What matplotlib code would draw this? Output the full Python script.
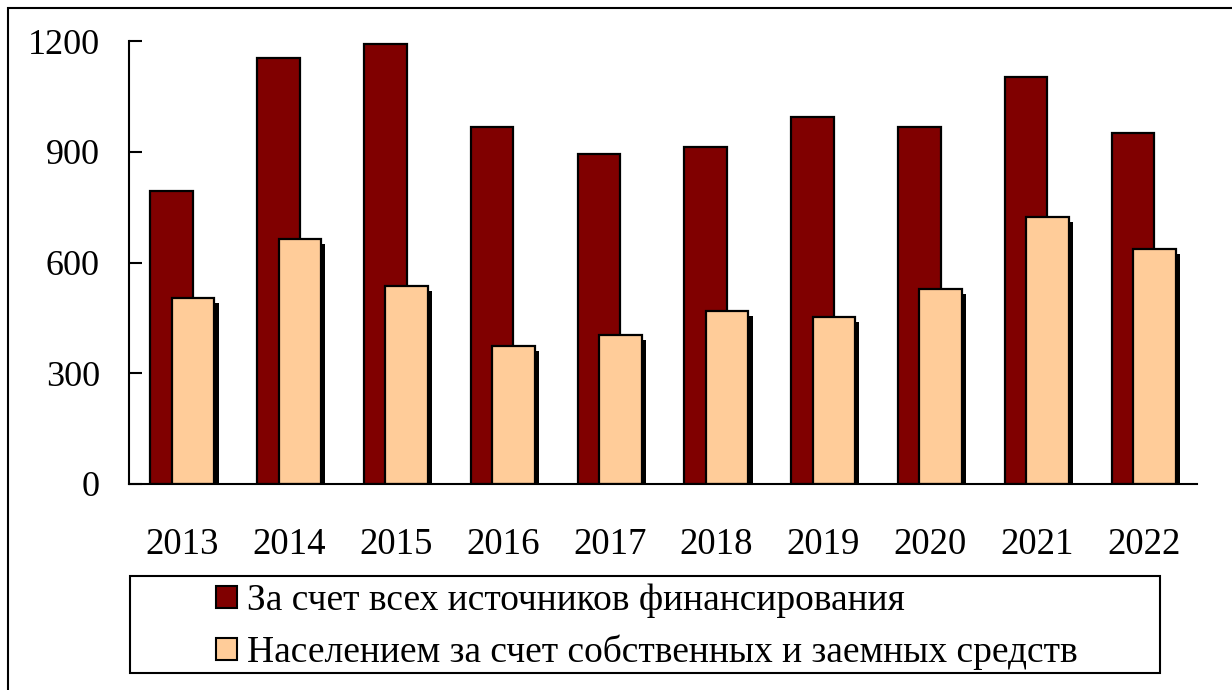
import matplotlib
matplotlib.use("Agg")
import matplotlib.pyplot as plt
import matplotlib.patheffects as pe
from matplotlib.patches import Rectangle, Patch
import numpy as np

years = ["2013", "2014", "2015", "2016", "2017", "2018", "2019", "2020", "2021", "2022"]
all_sources = [793, 1153, 1191, 967, 894, 912, 994, 967, 1102, 952]
households = [503, 664, 536, 374, 404, 469, 452, 528, 724, 636]
yticks = [0, 300, 600, 900, 1200]

label_all = "За счет всех источников финансирования"
label_households = "Населением за счет собственных и заемных средств"

dark = "#800000"
light = "#FFCC99"

plt.rcParams["font.family"] = ["Liberation Serif", "DejaVu Serif"]

fig = plt.figure(figsize=(12.32, 6.90), dpi=100)
ax = fig.add_axes([129 / 1232, 1 - 484 / 690, (1197 - 129) / 1232, (484 - 41) / 690])

x = np.arange(len(years))
w = 0.40
ax.bar(x - 0.1, all_sources, width=w, color=dark, edgecolor="black",
       linewidth=1.6, zorder=2)
ax.bar(x + 0.1, households, width=w, color=light, edgecolor="black",
       linewidth=1.6, zorder=3,
       path_effects=[pe.SimplePatchShadow(offset=(3, -3.6), shadow_rgbFace="black",
                                          alpha=1.0), pe.Normal()])

ax.set_xlim(-0.5, len(years) - 0.5)
ax.set_ylim(0, 1200)
ax.set_yticks(yticks)
ax.set_yticklabels([str(v) for v in yticks])
ax.set_xticks(x)
ax.set_xticklabels(years)

ax.tick_params(axis="y", direction="in", length=9, width=1.5, pad=21,
               labelsize=26)
ax.tick_params(axis="x", length=0, pad=31, labelsize=26.5)

for side in ("top", "right"):
    ax.spines[side].set_visible(False)
for side in ("left", "bottom"):
    ax.spines[side].set_linewidth(1.5)
    ax.spines[side].set_zorder(5)

# legend frame
fig.add_artist(Rectangle((130 / 1232, 1 - 673 / 690), (1160 - 130) / 1232,
                         (673 - 576) / 690, transform=fig.transFigure,
                         facecolor="white", edgecolor="black", linewidth=1.5))
handles = [Patch(facecolor=dark, edgecolor="black", linewidth=1.5),
           Patch(facecolor=light, edgecolor="black", linewidth=1.5)]
fig.legend(handles, [label_all, label_households], loc="center",
           bbox_to_anchor=(647 / 1232, 1 - 627 / 690),
           frameon=False, fontsize=27, handlelength=0.55, handleheight=0.55,
           handletextpad=0.27, labelspacing=0.45, borderpad=0)

# outer border
fig.add_artist(Rectangle((8 / 1232, -0.1), 1.2, (1 - 8 / 690) + 0.1,
                         transform=fig.transFigure, facecolor="none",
                         edgecolor="black", linewidth=1.5))

fig.savefig("out.png", dpi=100)
